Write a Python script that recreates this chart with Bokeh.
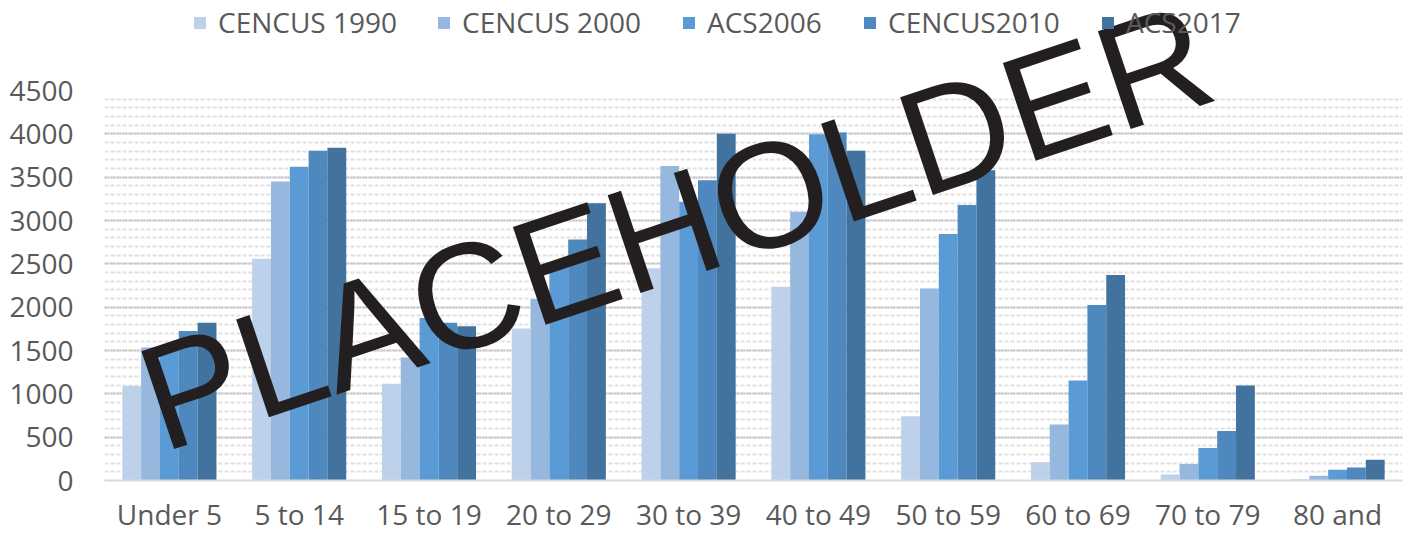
from bokeh.plotting import figure
from bokeh.layouts import column
from bokeh.models import (ColumnDataSource, FactorRange, Range1d, Legend, LegendItem,
                          SingleIntervalTicker)
from bokeh.core.properties import value
from bokeh.transform import dodge
from bokeh.embed import file_html
from bokeh.resources import INLINE

cats = ["Under 5", "5 to 14", "15 to 19", "20 to 29", "30 to 39",
        "40 to 49", "50 to 59", "60 to 69", "70 to 79", "80 and"]
series_names = ["CENCUS 1990", "CENCUS 2000", "ACS2006", "CENCUS2010", "ACS2017"]
c1990 = [1090, 2560, 1115, 1755, 2450, 2235, 740, 210, 70, 15]
c2000 = [1535, 3450, 1420, 2095, 3630, 3100, 2215, 645, 190, 55]
a2006 = [1500, 3620, 1875, 2500, 3215, 3995, 2845, 1155, 375, 125]
c2010 = [1725, 3805, 1820, 2780, 3465, 4015, 3180, 2025, 570, 150]
a2017 = [1820, 3840, 1780, 3200, 4000, 3805, 3580, 2370, 1095, 240]
colors = ["#bdd1ea", "#96b7de", "#5b9bd5", "#4e88be", "#42729e"]
watermark = ["PLACEHOLDER"]

FONT = "Open Sans"
TXT = "#595959"
W, H = 1408, 535
FL, FR = 104, 1402   # plot frame left / right (px)

keys = ["s0", "s1", "s2", "s3", "s4"]
src = ColumnDataSource(dict(x=cats, s0=c1990, s1=c2000, s2=a2006, s3=c2010, s4=a2017))

p = figure(x_range=FactorRange(*cats), y_range=Range1d(0, 4500),
           width=W, height=H, output_backend="svg", toolbar_location=None,
           min_border_left=FL, min_border_right=W - FR, min_border_top=90, min_border_bottom=53)
p.outline_line_color = None
p.background_fill_color = "white"

bw = 0.145
offsets = [-2 * bw, -bw, 0, bw, 2 * bw]
for i, key in enumerate(keys):
    p.vbar(x=dodge("x", offsets[i], range=p.x_range), top=key, bottom=0, width=bw,
           source=src, fill_color=colors[i], line_color=None)

# grids
p.xgrid.grid_line_color = None
p.yaxis.ticker = SingleIntervalTicker(interval=500, num_minor_ticks=5)
p.ygrid.grid_line_color = "#c2c2c2"
p.ygrid.grid_line_width = 2
p.ygrid.grid_line_dash = "2 1"
p.ygrid.minor_grid_line_color = "#e0e0e0"
p.ygrid.minor_grid_line_width = 2
p.ygrid.minor_grid_line_dash = "4 2"
p.ygrid.level = "underlay"

# axes
p.yaxis.axis_line_color = None
p.yaxis.major_tick_line_color = None
p.yaxis.minor_tick_line_color = None
p.yaxis.major_tick_out = 0
p.yaxis.minor_tick_out = 0
p.yaxis.major_label_standoff = 31
p.yaxis.major_label_text_font = FONT
p.yaxis.major_label_text_font_size = "28px"
p.yaxis.major_label_text_color = TXT

p.xaxis.axis_line_color = "#d9d9d9"
p.xaxis.axis_line_width = 2
p.xaxis.major_tick_line_color = None
p.xaxis.minor_tick_line_color = None
p.xaxis.major_tick_out = 0
p.xaxis.minor_tick_out = 0
p.xaxis.major_label_standoff = 14
p.xaxis.major_label_text_font = FONT
p.xaxis.major_label_text_font_size = "28px"
p.xaxis.major_label_text_color = TXT

# transparent overlay figure for legend and watermark (not clipped to the bar frame);
# its x range equals screen pixels over the (aligned) frame, its y range is screen pixels
ov = figure(x_range=Range1d(FL, FR), y_range=Range1d(H, 0), width=W, height=H,
            output_backend="svg", toolbar_location=None,
            min_border_left=FL, min_border_right=W - FR, min_border_top=0, min_border_bottom=0,
            x_axis_type=None, y_axis_type=None)
ov.grid.visible = False
ov.outline_line_color = None
ov.background_fill_alpha = 0
ov.border_fill_alpha = 0
ov.margin = (-H, 0, 0, 0)

leg_sx = [192, 436, 681, 862, 1100]
for i, name in enumerate(series_names):
    r = ov.vbar(x="x", top=keys[i], width=1, source=src, fill_color=colors[i],
                line_color=None, visible=False)
    leg = Legend(items=[LegendItem(label=name, renderers=[r])],
                 location=(leg_sx[i] - FL, 494), orientation="horizontal",
                 glyph_width=15, glyph_height=15, label_standoff=11,
                 label_text_font=FONT, label_text_font_size="28px", label_text_color=TXT,
                 padding=0, margin=0, border_line_color=None, background_fill_alpha=0)
    ov.add_layout(leg)

wsrc = ColumnDataSource(dict(x=[675], y=[226], t=watermark))
ov.text(x="x", y="y", text="t", source=wsrc, angle=0.323, text_align="center",
        text_baseline="alphabetic", text_font=value("Liberation Sans"),
        text_font_size="150px", text_color="#231f20")

layout = column(p, ov, spacing=0)
open("out.html", "w").write(file_html(layout, INLINE))
